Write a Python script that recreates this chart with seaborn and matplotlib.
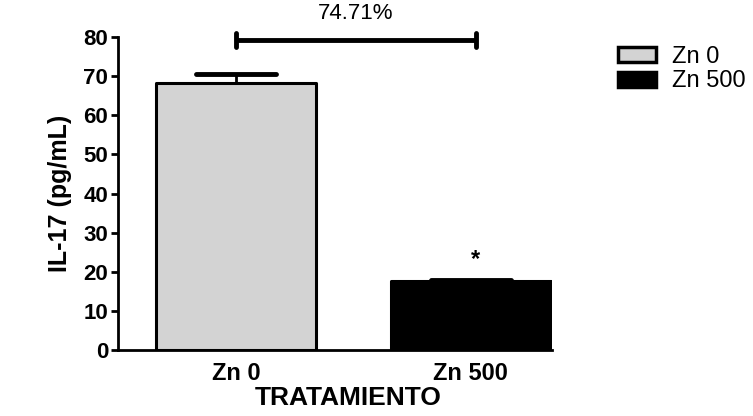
import pandas as pd
import matplotlib.pyplot as plt
import seaborn as sns
from matplotlib.patches import Patch

grupos = ['Zn 0', 'Zn 500']
il17 = [68.2, 17.6]
sem = [2.3, 0.3]
colores = ['#d3d3d3', '#000000']
porcentaje = '74.71%'

sns.set_theme(style="white")
plt.rcParams['font.family'] = ['Liberation Sans', 'DejaVu Sans']
plt.rcParams['text.color'] = 'black'
plt.rcParams['axes.labelcolor'] = 'black'
plt.rcParams['xtick.color'] = 'black'
plt.rcParams['ytick.color'] = 'black'

df = pd.DataFrame({'Tratamiento': grupos, 'IL17': il17})

fig = plt.figure(figsize=(7.53, 4.16), dpi=100)
ax = fig.add_axes([118/753, 1 - 350/416, (552 - 118)/753, (350 - 37)/416])

sns.barplot(data=df, x='Tratamiento', y='IL17', hue='Tratamiento', palette=colores,
            width=0.68, edgecolor='black', linewidth=2.2, legend=False, ax=ax)
for p in ax.patches:
    p.set_joinstyle('round')

# barras de error solo hacia arriba
xs = list(range(len(grupos)))
tops = [m + e for m, e in zip(il17, sem)]
ax.vlines(xs, il17, tops, color='black', lw=2, zorder=1)
ax.hlines(tops, [x - 0.17 for x in xs], [x + 0.17 for x in xs], color='black', lw=3.5,
          zorder=1, capstyle='round')

ax.set_xlim(-0.502, 1.345)
ax.set_ylim(0, 80)
ax.set_yticks(range(0, 81, 10))
ax.set_xticks([0, 1])
ax.set_xticklabels(grupos, fontsize=17, fontweight='bold')
ax.tick_params(axis='x', length=0, pad=9)
ax.set_xticks([0.5], minor=True)
ax.tick_params(axis='x', which='minor', length=7, width=2, color='black', direction='out')
ax.tick_params(axis='y', length=5, width=2, color='black', direction='out', left=True, pad=2)
for lab in ax.get_yticklabels():
    lab.set_fontsize(16)
    lab.set_fontweight('bold')

ax.set_xlabel('TRATAMIENTO', fontsize=19, fontweight='bold')
ax.xaxis.set_label_coords(0.53, -0.115)
ax.set_ylabel('IL-17 (pg/mL)', fontsize=18, fontweight='bold', labelpad=8)

sns.despine(ax=ax)
for s in ['left', 'bottom']:
    ax.spines[s].set_linewidth(2)
    ax.spines[s].set_color('black')

# barra de comparacion
yb = 79.2
ax.plot([0, 1.02], [yb, yb], color='black', lw=3.5, clip_on=False, solid_capstyle='butt')
for xb in [0, 1.02]:
    ax.plot([xb, xb], [yb - 1.7, yb + 1.7], color='black', lw=3.5, clip_on=False)
ax.text(0.51, yb + 4.2, porcentaje, ha='center', va='bottom', fontsize=16, clip_on=False)
ax.text(1.02, il17[1] + 2.5, '*', ha='center', va='bottom', fontsize=17, fontweight='bold')

handles = [Patch(facecolor=c, edgecolor='black', linewidth=2.5, label=g)
           for g, c in zip(grupos, colores)]
fig.legend(handles=handles, loc='upper left', bbox_to_anchor=(618/753, 1 - 46/416),
           frameon=False, fontsize=17, handlelength=1.6, handleheight=0.6,
           handletextpad=0.7, labelspacing=0.1, borderpad=0, borderaxespad=0)

fig.savefig('out.png', dpi=100)
